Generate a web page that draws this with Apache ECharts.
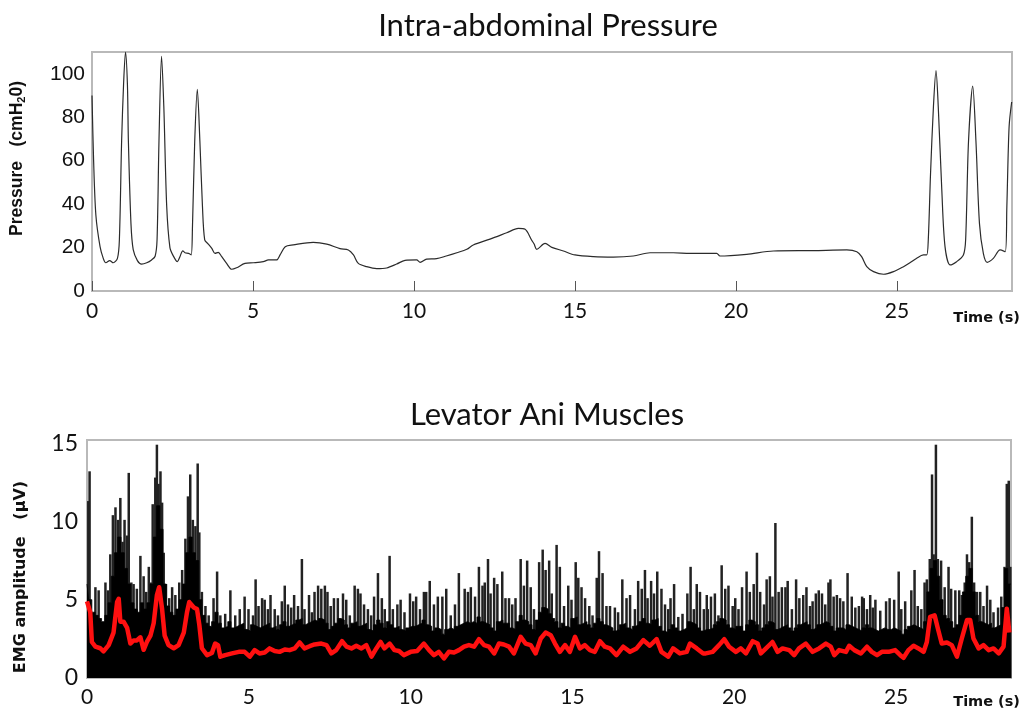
<!DOCTYPE html>
<html><head><meta charset="utf-8">
<script src="https://cdn.jsdelivr.net/npm/echarts@6/dist/echarts.min.js"></script>
<style>html,body{margin:0;padding:0;background:#fff}#c{width:1024px;height:710px}</style>
</head><body><div id="c"></div>
<script>
// ---- data ----
const titles = ['Intra-abdominal Pressure', 'Levator Ani Muscles'];
const timeTicks = [0, 5, 10, 15, 20, 25];
const pressureTicks = [0, 20, 40, 60, 80, 100];
const emgTicks = [0, 5, 10, 15];

// Intra-abdominal pressure [time s, cmH2O]
const pressure = [
 [0,90],[0.05,60],[0.12,35],[0.25,20.4],[0.35,15],[0.43,13],[0.55,14],[0.66,13],[0.79,15],[0.85,23.5],[0.92,69],[0.98,95],[1.04,110],[1.1,95],[1.13,69],[1.21,31],[1.28,19],[1.41,14],[1.54,12.4],[1.70,13],[1.85,14.3],[1.96,16],
 [2.02,23.5],[2.08,69],[2.16,108],[2.23,85],[2.32,39],[2.42,20],[2.53,16],[2.65,13.5],[2.73,15.8],[2.82,18.5],[2.89,17.6],[3.0,17.3],[3.08,16.6],[3.12,29.6],[3.19,69],[3.27,92.8],[3.35,69],[3.43,39],[3.50,23.5],[3.61,21.6],[3.72,19.6],[3.82,17.3],[3.92,17.8],[4.03,15.8],[4.18,12.7],[4.34,10],[4.49,10.7],[4.75,12.7],
 [5.01,13],[5.32,13.5],[5.48,14.3],[5.73,14.3],[5.84,16.6],[6.0,20.4],[6.25,21.2],[6.87,22.4],[7.29,21.6],[7.70,19.5],[7.96,18.9],[8.12,16.6],[8.27,12.7],[8.53,11.2],[8.84,10.3],[9.15,10.6],[9.46,12.4],[9.72,14.1],[10.08,14.3],[10.19,13.2],[10.39,14.7],[10.7,14.9],
 [11.0,16.1],[11.33,17.6],[11.64,19.2],[11.84,21.2],[12.36,23.9],[12.88,26.8],[13.24,28.8],[13.45,28.4],[13.65,23.5],[13.73,21.6],[13.81,19.2],[14.07,21.9],[14.28,20.1],[14.64,18.4],[15.0,16.6],[15.57,15.8],[16.19,15.6],[16.81,16.1],[17.33,17.6],[18.05,17.6],[18.57,17.3],[19.4,17.3],[19.5,16.1],
 [20.33,16.9],[21.16,18.4],[22.4,18.6],[23.44,18.9],[23.75,18.1],[23.9,15.8],[24.06,11.2],[24.27,8.9],[24.58,7.7],[24.89,8.9],[25.2,11.2],[25.4,13],[25.6,15],[25.82,16.6],[25.92,16.6],[25.97,23.5],[26.04,54],[26.13,84.8],[26.21,101.4],[26.28,84.8],[26.39,46.5],[26.49,20.4],[26.65,12],[26.85,13.5],
 [27.06,16.6],[27.13,23.5],[27.22,69],[27.35,94.3],[27.45,69],[27.56,31],[27.68,17.3],[27.8,13.2],[27.99,15],[28.2,18.9],[28.36,18.1],[28.41,38.8],[28.48,75.6],[28.56,87]
];

// EMG dense activity level, one value per 0.1 s bin starting at 0 s (µV)
const emgBinSeconds = 0.1;
const emgBase = [
 6.0,5.0,4.2,4.0,3.8,3.6,4.0,4.8,6.5,8.0,
 9.0,8.0,7.0,6.0,4.8,4.4,4.2,4.8,4.4,4.8,
 6.0,9.0,11.0,9.5,6.0,4.6,4.2,4.0,4.4,5.0,
 6.0,8.0,9.0,8.0,7.5,5.0,4.0,3.5,3.3,3.6,
 4.2,3.5,3.2,3.3,3.6,3.2,3.3,3.4,3.5,3.1,
 3.0,3.4,3.3,3.2,3.3,3.4,3.5,3.2,3.3,3.1,
 3.4,3.6,3.3,3.4,3.5,3.7,3.8,3.4,3.5,3.6,
 3.7,3.6,3.8,3.7,3.5,3.1,3.3,3.5,3.8,3.7,
 3.4,3.2,3.5,3.6,3.3,3.4,3.5,3.1,3.0,3.4,
 3.7,3.5,3.2,3.6,3.4,3.2,3.3,3.1,3.0,3.2,
 3.3,3.3,3.4,3.5,3.7,3.4,3.3,3.0,3.2,3.1,
 2.8,3.1,3.2,3.1,3.3,3.4,3.5,3.6,3.5,3.6,
 3.5,3.9,3.6,3.5,3.4,3.2,3.0,3.6,3.7,3.5,
 3.5,3.2,3.1,3.6,4.0,3.7,3.6,3.4,3.1,3.7,
 4.2,4.5,4.4,4.1,3.8,3.6,3.2,3.5,3.3,3.2,
 3.8,3.9,3.4,3.5,3.6,3.4,3.2,3.5,3.8,3.6,
 3.4,3.3,3.2,3.0,3.1,3.4,3.5,3.2,3.1,3.3,
 3.4,3.6,3.8,3.5,3.4,3.7,3.8,3.3,3.0,2.9,
 3.1,3.4,3.2,3.0,3.1,3.2,3.6,3.5,3.4,3.2,
 3.0,3.1,3.1,3.2,3.4,3.6,3.8,3.7,3.4,3.2,
 3.1,3.3,3.3,3.0,3.4,3.7,3.6,3.4,3.0,3.2,
 3.4,3.6,3.5,3.1,3.2,3.3,3.4,3.2,3.0,3.2,
 3.4,3.5,3.6,3.4,3.1,3.2,3.4,3.5,3.6,3.5,
 3.3,3.0,3.2,3.2,3.1,3.4,3.3,3.2,3.1,3.0,
 3.2,3.4,3.2,3.1,3.0,3.1,3.2,3.1,3.1,3.2,
 3.1,3.0,2.8,3.1,3.3,3.4,3.3,3.2,3.1,3.6,
 5.5,7.0,7.5,6.5,5.0,4.0,3.8,3.6,3.2,3.4,
 4.0,5.5,6.5,7.0,5.5,4.0,3.6,3.5,3.4,3.5,
 3.2,3.3,3.4,4.5,7.0,6.0
];

// Individual EMG spikes [time s, peak µV]
const emgSpikes = [
 [0.04,11.3],[0.08,13.2],[0.26,5.8],[0.36,5.6],[0.57,6.1],[0.65,5.6],[0.72,7.9],[0.80,10.4],[0.88,10.9],[0.96,10.1],[1.03,11.5],[1.10,8.7],[1.16,10.1],[1.24,9.1],[1.29,13.1],[1.37,6.1],[1.44,6.0],[1.54,5.7],[1.65,7.8],[1.75,6.5],[1.83,5.5],[1.91,7.1],[1.98,6.1],
 [2.03,11.1],[2.11,12.8],[2.16,14.9],[2.21,12.4],[2.27,13.2],[2.32,11.2],[2.37,8.0],[2.44,6.0],[2.54,5.1],[2.63,5.8],[2.73,5.3],[2.85,6.1],[2.94,6.9],[3.04,8.9],[3.12,11.6],[3.19,13.0],[3.27,10.1],[3.35,9.7],[3.42,13.7],[3.47,9.3],[3.55,5.5],[3.66,4.6],[3.76,4.0],[3.91,5.1],[4.02,6.8],[4.12,4.0],[4.27,4.1],[4.43,5.6],[4.58,4.0],
 [4.72,4.4],[4.87,5.2],[4.99,4.4],[5.13,4.0],[5.21,6.3],[5.30,4.6],[5.41,5.1],[5.49,5.0],[5.59,4.4],[5.67,5.3],[5.80,4.4],[5.90,4.0],[6.02,4.9],[6.11,5.9],[6.21,4.7],[6.31,4.5],[6.40,5.3],[6.52,4.6],[6.64,7.6],[6.72,4.4],[6.86,5.3],[6.95,4.2],[7.03,5.5],[7.14,5.9],[7.24,5.7],[7.35,5.9],[7.43,5.5],[7.53,4.6],[7.63,5.1],[7.75,5.1],[7.91,5.4],[8.01,5.0],[8.12,4.0],[8.27,5.9],[8.37,5.7],[8.45,5.4],[8.56,4.7],[8.68,4.4],[8.78,4.0],[8.87,5.2],[8.99,6.7],[9.11,5.1],[9.20,4.4],[9.35,7.8],[9.45,4.4],
 [9.59,4.7],[9.69,5.0],[9.81,4.2],[9.98,5.4],[10.08,4.9],[10.17,5.2],[10.29,4.4],[10.41,5.5],[10.48,5.5],[10.59,6.2],[10.72,4.7],[10.84,5.2],[10.98,5.2],[11.10,5.7],[11.24,4.0],[11.37,4.7],[11.49,6.7],[11.67,5.7],[11.77,5.5],[11.86,5.8],[11.99,5.2],[12.11,7.1],[12.22,5.9],[12.29,6.1],[12.39,7.6],[12.47,5.4],[12.58,6.4],[12.68,6.0],[12.83,6.8],[12.93,5.1],[13.04,5.1],[13.14,4.7],[13.24,5.1],[13.40,7.6],[13.50,5.9],[13.60,7.5],[13.71,5.8],[13.81,4.4],[13.97,7.4],[14.08,8.2],[14.17,6.9],[14.28,7.5],
 [14.36,5.4],[14.51,8.5],[14.61,7.1],[14.74,4.6],[14.87,5.9],[14.97,5.0],[15.10,7.4],[15.18,6.4],[15.28,5.8],[15.39,5.1],[15.52,4.6],[15.62,4.0],[15.75,6.4],[15.82,8.1],[15.93,6.7],[16.05,4.6],[16.16,4.6],[16.31,4.5],[16.41,4.2],[16.54,6.3],[16.67,5.1],[16.78,5.3],[16.93,4.4],[17.03,6.2],[17.14,5.7],[17.24,6.9],[17.32,5.1],[17.43,6.2],[17.52,5.4],[17.62,6.8],[17.75,5.7],[17.86,4.7],[17.96,4.4],[18.03,5.1],[18.14,6.0],[18.27,3.9],[18.40,4.1],[18.55,5.4],[18.65,7.1],[18.75,4.4],[18.84,6.0],[18.94,5.5],[19.06,4.4],[19.15,5.3],
 [19.18,4.4],[19.28,5.2],[19.40,5.4],[19.51,4.0],[19.61,7.2],[19.72,5.7],[19.82,5.9],[19.95,4.6],[20.03,5.1],[20.13,4.4],[20.24,5.8],[20.38,6.8],[20.48,5.5],[20.60,6.0],[20.70,8.0],[20.80,5.5],[20.92,4.7],[21.00,6.3],[21.10,6.5],[21.18,5.2],[21.27,9.9],[21.37,5.5],[21.47,5.8],[21.58,5.8],[21.65,6.2],[21.78,4.4],[21.91,6.3],[22.01,5.1],[22.13,5.3],[22.23,5.8],[22.34,4.6],[22.42,4.9],[22.52,5.4],[22.61,5.6],[22.71,5.4],[22.81,4.7],[22.91,6.1],[22.97,6.3],[23.07,5.2],[23.17,5.3],[23.27,5.1],[23.37,4.9],[23.50,6.7],[23.63,5.2],[23.74,4.5],[23.85,4.6],[23.95,5.2],
 [24.00,5.1],[24.10,4.4],[24.20,5.3],[24.28,4.5],[24.36,5.0],[24.51,4.3],[24.69,4.9],[24.80,5.1],[24.94,5.0],[25.08,6.8],[25.16,4.4],[25.28,4.9],[25.47,5.6],[25.57,6.9],[25.67,4.6],[25.78,4.4],[25.88,6.1],[25.95,6.3],[26.04,7.6],[26.11,13.0],[26.16,7.9],[26.23,14.9],[26.29,7.6],[26.39,7.5],[26.50,5.8],[26.62,7.1],[26.70,5.7],[26.83,5.6],[26.95,5.6],
 [27.03,5.3],[27.12,6.1],[27.19,7.9],[27.26,7.4],[27.34,10.3],[27.41,6.1],[27.50,5.5],[27.60,5.5],[27.70,4.6],[27.81,5.9],[27.91,5.0],[28.01,4.2],[28.15,4.5],[28.25,5.2],[28.35,7.1],[28.42,12.4],[28.48,12.6],[28.53,7.1]
];

// Smoothed EMG envelope (red) [time s, µV]
const emgEnvelope = [
 [0.0,4.9],[0.03,4.96],[0.10,4.2],[0.15,2.3],[0.26,2.0],[0.41,1.9],[0.51,1.7],[0.67,2.1],[0.82,2.9],[0.93,4.85],[0.98,5.06],[1.03,3.6],[1.13,3.6],[1.24,3.2],[1.34,2.2],[1.44,2.4],[1.54,2.4],[1.65,2.6],[1.75,1.8],[1.85,2.3],[1.96,2.7],
 [2.06,3.5],[2.16,5.3],[2.23,5.8],[2.32,4.4],[2.40,2.7],[2.52,2.1],[2.68,1.9],[2.83,2.1],[2.99,2.9],[3.09,4.2],[3.16,4.85],[3.30,4.5],[3.40,4.4],[3.47,3.4],[3.55,1.9],[3.71,1.46],[3.86,1.6],[3.96,2.2],[4.05,2.1],[4.12,1.36],[4.27,1.46],[4.48,1.57],[4.69,1.67],
 [4.87,1.67],[5.03,1.36],[5.18,1.78],[5.33,1.57],[5.49,1.63],[5.64,1.89],[5.80,1.72],[5.95,1.67],[6.11,1.82],[6.26,1.78],[6.42,1.89],[6.57,2.27],[6.72,1.89],[6.88,2.03],[7.03,2.14],[7.24,2.2],[7.40,2.1],[7.55,1.57],[7.70,1.78],[7.88,2.35],[8.02,2.0],[8.17,1.89],[8.32,2.06],[8.48,1.89],[8.63,2.1],[8.79,1.36],[8.94,1.89],[9.07,2.3],[9.19,1.89],[9.35,2.2],[9.50,1.78],
 [9.64,1.72],[9.79,1.46],[10.0,1.67],[10.2,1.72],[10.41,2.2],[10.57,1.78],[10.72,1.46],[10.87,1.67],[11.03,1.25],[11.18,1.67],[11.34,1.63],[11.49,1.78],[11.65,2.0],[11.80,2.1],[11.96,2.0],[12.11,2.48],[12.27,2.1],[12.42,2.0],[12.58,1.57],[12.73,2.2],[12.88,2.14],[13.04,2.0],[13.19,1.57],[13.40,2.63],[13.55,2.2],[13.71,2.1],[13.86,1.57],[14.02,2.52],[14.17,2.9],[14.33,2.73],
 [14.46,2.2],[14.61,1.67],[14.77,2.1],[14.92,1.67],[15.08,2.63],[15.23,1.89],[15.38,2.1],[15.54,1.78],[15.69,1.67],[15.85,2.35],[16.0,2.0],[16.16,1.89],[16.36,1.46],[16.57,2.0],[16.78,1.67],[16.98,1.89],[17.19,2.42],[17.39,2.06],[17.60,2.48],[17.75,1.67],[17.96,1.36],[18.11,1.89],[18.32,1.57],[18.53,1.67],[18.63,2.2],[18.84,1.89],[19.04,1.57],
 [19.12,1.57],[19.33,1.67],[19.53,2.1],[19.69,2.48],[19.84,2.0],[20.05,1.67],[20.20,1.89],[20.36,1.57],[20.57,2.35],[20.72,2.2],[20.82,1.57],[20.98,1.89],[21.18,2.3],[21.34,1.67],[21.49,1.89],[21.70,1.78],[21.85,1.46],[22.0,1.89],[22.21,2.2],[22.42,1.67],[22.62,1.89],[22.83,2.2],[22.98,2.0],[23.09,1.46],[23.24,1.78],[23.45,1.67],[23.55,2.06],[23.71,1.78],[23.91,1.57],
 [24.10,2.0],[24.25,1.67],[24.41,1.46],[24.56,1.67],[24.77,1.67],[24.97,1.78],[25.13,1.46],[25.23,1.29],[25.38,1.78],[25.54,2.06],[25.69,1.89],[25.85,1.67],[25.95,2.3],[26.05,3.9],[26.19,4.0],[26.29,3.16],[26.41,2.2],[26.57,2.27],[26.72,2.1],[26.88,1.36],[27.03,2.52],[27.19,3.7],[27.29,3.7],[27.39,2.52],[27.55,1.89],[27.70,2.1],[27.86,1.78],[28.01,1.89],[28.17,1.57],[28.32,2.0],[28.42,4.43],[28.50,2.9]
];

// ---- chart ----
const X_MAX_TOP = 28.57, X_MAX_BOT = 28.55;
const baseData = emgBase.map((v, i) => [+(i * emgBinSeconds).toFixed(2), v]);
baseData.push([X_MAX_BOT, emgBase[emgBase.length - 1]]);

const frame = '#b9b9b9';
const tickFont = 'Lato, "Open Sans", sans-serif';
const chart = echarts.init(document.getElementById('c'), null, {renderer: 'canvas'});
chart.setOption({
  animation: false,
  backgroundColor: '#fff',
  title: [
    {text: titles[0], left: 543, top: 5, textAlign: 'center',
     textStyle: {fontFamily: tickFont, fontWeight: 'normal', fontSize: 31, color: '#111'}},
    {text: titles[1], left: 542, top: 394, textAlign: 'center',
     textStyle: {fontFamily: tickFont, fontWeight: 'normal', fontSize: 31, color: '#111'}}
  ],
  grid: [
    {left: 92, top: 52, width: 920, height: 239, show: true, borderColor: frame, borderWidth: 2, backgroundColor: 'transparent'},
    {left: 87, top: 440, width: 924, height: 239, show: true, borderColor: frame, borderWidth: 2, backgroundColor: 'transparent'}
  ],
  xAxis: [
    {type: 'value', gridIndex: 0, min: 0, max: X_MAX_TOP, interval: 5,
     axisLine: {show: true, lineStyle: {color: frame, width: 2}},
     axisTick: {show: true, inside: true, length: 10, lineStyle: {color: '#555', width: 1}},
     axisLabel: {fontFamily: tickFont, fontSize: 21, color: '#111', margin: 10, showMaxLabel: false,
       formatter: v => timeTicks.includes(v) ? String(v) : ''},
     splitLine: {show: false},
     name: 'Time (s)', nameLocation: 'end', nameGap: 8,
     nameTextStyle: {fontFamily: '"DejaVu Sans", sans-serif', fontWeight: 'bold', fontSize: 14.5, color: '#111',
       align: 'right', verticalAlign: 'top', padding: [20, 0, 0, 0]}},
    {type: 'value', gridIndex: 1, min: 0, max: X_MAX_BOT, interval: 5,
     axisLine: {show: true, lineStyle: {color: frame, width: 2}},
     axisTick: {show: false},
     axisLabel: {fontFamily: tickFont, fontSize: 21, color: '#111', margin: 9, showMaxLabel: false,
       formatter: v => timeTicks.includes(v) ? String(v) : ''},
     splitLine: {show: false},
     name: 'Time (s)', nameLocation: 'end', nameGap: 9,
     nameTextStyle: {fontFamily: '"DejaVu Sans", sans-serif', fontWeight: 'bold', fontSize: 14.5, color: '#111',
       align: 'right', verticalAlign: 'top', padding: [17, 0, 0, 0]}}
  ],
  yAxis: [
    {type: 'value', gridIndex: 0, min: 0, max: 110, interval: 20,
     axisLine: {show: false}, axisTick: {show: false}, splitLine: {show: false},
     axisLabel: {fontFamily: '"Liberation Sans", Arial, sans-serif', fontSize: 21, color: '#111', margin: 7, showMaxLabel: false,
       formatter: v => pressureTicks.includes(v) ? String(v) : ''},
     name: 'Pressure   (cmH{s|2}0)', nameLocation: 'middle', nameGap: 65, nameRotate: 90,
     nameTextStyle: {fontFamily: '"Liberation Sans", Arial, sans-serif', fontWeight: 'bold', fontSize: 17.5, color: '#111',
       padding: [0, 0, 0, 26],
       rich: {s: {fontFamily: '"Liberation Sans", Arial, sans-serif', fontWeight: 'bold', fontSize: 11, color: '#111', verticalAlign: 'bottom', padding: [9, 0, 0, 0]}}}},
    {type: 'value', gridIndex: 1, min: 0, max: 15.2, interval: 5,
     axisLine: {show: false}, axisTick: {show: false}, splitLine: {show: false},
     axisLabel: {fontFamily: tickFont, fontSize: 23, color: '#111', margin: 9, showMaxLabel: false,
       formatter: v => emgTicks.includes(v) ? String(v) : ''},
     name: 'EMG amplitude   (μV)', nameLocation: 'middle', nameGap: 58, nameRotate: 90,
     nameTextStyle: {fontFamily: '"DejaVu Sans", sans-serif', fontWeight: 'bold', fontSize: 16, color: '#111',
       padding: [0, 36, 0, 0]}}
  ],
  series: [
    {name: 'Pressure', type: 'line', xAxisIndex: 0, yAxisIndex: 0, data: pressure,
     showSymbol: false, smooth: 0.3, lineStyle: {color: '#2b2b2b', width: 1.2}},
    {name: 'EMG activity', type: 'line', xAxisIndex: 1, yAxisIndex: 1, data: baseData,
     step: 'middle', showSymbol: false, lineStyle: {color: '#000', width: 0.8},
     areaStyle: {color: '#000', opacity: 1}},
    {name: 'EMG spikes', type: 'bar', xAxisIndex: 1, yAxisIndex: 1, data: emgSpikes,
     barWidth: 2.5, itemStyle: {color: '#222'}},
    {name: 'EMG envelope', type: 'line', xAxisIndex: 1, yAxisIndex: 1, data: emgEnvelope,
     showSymbol: false, lineStyle: {color: '#ff1010', width: 4.5, join: 'round'}}
  ]
});
</script>
</body></html>
